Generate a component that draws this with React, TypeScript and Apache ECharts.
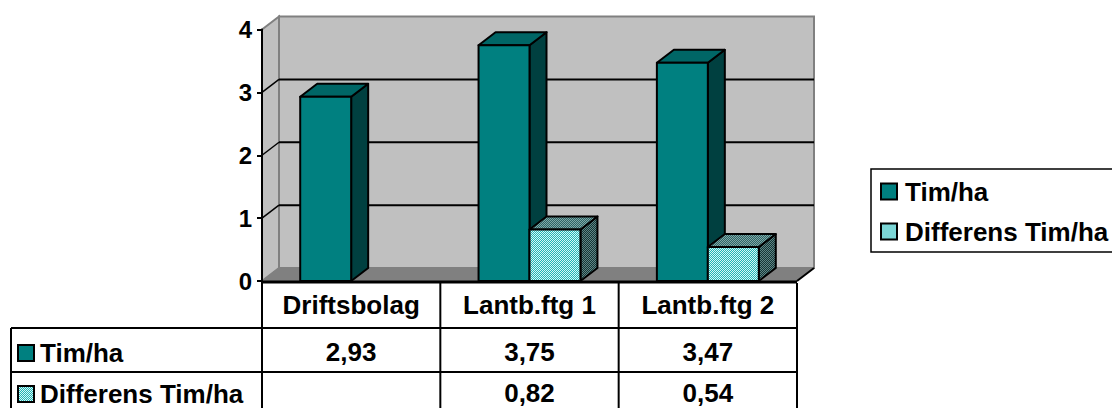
import React, { useEffect, useRef } from "react";
import * as echarts from "echarts";

const categories = ["Driftsbolag", "Lantb.ftg 1", "Lantb.ftg 2"];
const seriesNames = ["Tim/ha", "Differens Tim/ha"];
const timHa = [2.93, 3.75, 3.47];
const differens: (number | null)[] = [null, 0.82, 0.54];
const yTicks = [0, 1, 2, 3, 4];

const W = 1112;
const H = 408;
const GRID_L = 262;
const GRID_R = 797;
const GRID_T = 29.5;
const GRID_B = 281;
const DX = 17;
const DY = 13;
const FONT = '"Liberation Sans", Arial, sans-serif';
const ROW_Y = [283, 328, 372, 416];
const ROW_TEXT_Y = [352, 393];
const LEFT_COL_X = 11;
const TXT = 26;

function checker(c1: string, c2: string) {
  const cv = document.createElement("canvas");
  cv.width = 2;
  cv.height = 2;
  const ctx = cv.getContext("2d")!;
  ctx.fillStyle = c1;
  ctx.fillRect(0, 0, 2, 2);
  ctx.fillStyle = c2;
  ctx.fillRect(0, 0, 1, 1);
  ctx.fillRect(1, 1, 1, 1);
  return { image: cv.toDataURL(), imageWidth: 2, imageHeight: 2, repeat: "repeat" };
}

const fmt = (v: number) => v.toFixed(2).replace(".", ",");

export default function App() {
  const ref = useRef<HTMLDivElement>(null);
  useEffect(() => {
    if (!ref.current) return;
    const chart = echarts.init(ref.current, null, { renderer: "svg" });

    const palettes = [
      { front: "#008080", top: "#006666", side: "#004040" },
      {
        front: checker("#22b4b4", "#d4f8f8") as any,
        top: checker("#2e6464", "#80a8a8") as any,
        side: checker("#163636", "#5e8686") as any,
      },
    ];

    const barSeries = [timHa, differens].map((vals, s) => ({
      name: seriesNames[s],
      type: "custom",
      z: 5,
      silent: true,
      itemStyle: { color: palettes[s].front },
      encode: { x: 0, y: 1 },
      data: vals.map((v, i) => [i, v == null ? "-" : v]),
      renderItem: (params: any, api: any) => {
        const idx = api.value(0);
        const v = api.value(1);
        if (v == null || isNaN(v)) return { type: "group", children: [] };
        const [cx, yTop] = api.coord([idx, v]);
        const y0 = api.coord([idx, 0])[1];
        const band = api.size([1, 0])[0];
        const barW = band / 3.5;
        const gap = barW * 0.75;
        const x = cx - band / 2 + gap + s * barW;
        const pal = palettes[s];
        const stroke = { stroke: "#000", lineWidth: 2, lineJoin: "round" };
        return {
          type: "group",
          children: [
            {
              type: "polygon",
              shape: { points: [[x + barW, yTop], [x + barW + DX, yTop - DY], [x + barW + DX, y0 - DY], [x + barW, y0]] },
              style: { fill: pal.side, ...stroke },
            },
            {
              type: "polygon",
              shape: { points: [[x, yTop], [x + barW, yTop], [x + barW + DX, yTop - DY], [x + DX, yTop - DY]] },
              style: { fill: pal.top, ...stroke },
            },
            {
              type: "rect",
              shape: { x, y: yTop, width: barW, height: y0 - yTop },
              style: { fill: pal.front, ...stroke },
            },
            {
              type: "text",
              style: {
                text: fmt(v),
                x: cx,
                y: ROW_TEXT_Y[s],
                align: "center",
                verticalAlign: "middle",
                fontSize: TXT,
                fontWeight: "bold",
                fontFamily: FONT,
                fill: "#000",
              },
            },
          ],
        };
      },
    }));

    const wallSeries = {
      type: "custom",
      z: 1,
      silent: true,
      data: [[0, 0]],
      encode: { x: 0, y: 1 },
      renderItem: (params: any, api: any) => {
        const cs = params.coordSys;
        const x = cs.x, y = cs.y, w = cs.width, h = cs.height;
        const children: any[] = [
          {
            type: "rect",
            shape: { x: x + DX, y: y - DY, width: w, height: h },
            style: { fill: "#c0c0c0", stroke: "#808080", lineWidth: 2 },
          },
          {
            type: "polygon",
            shape: { points: [[x, y], [x + DX, y - DY], [x + DX, y + h - DY], [x, y + h]] },
            style: { fill: "#c0c0c0", stroke: "#808080", lineWidth: 2 },
          },
          {
            type: "polygon",
            shape: { points: [[x, y + h], [x + w, y + h], [x + w + DX, y + h - DY], [x + DX, y + h - DY]] },
            style: { fill: "#808080", stroke: "#808080", lineWidth: 1 },
          },
          {
            type: "line",
            shape: { x1: x + w, y1: y + h, x2: x + w + DX, y2: y + h - DY },
            style: { stroke: "#000", lineWidth: 2 },
          },
        ];
        yTicks.slice(1, -1).forEach((t) => {
          const yf = api.coord([0, t])[1];
          children.push({
            type: "line",
            shape: { x1: x + DX, y1: yf - DY, x2: x + w + DX, y2: yf - DY },
            style: { stroke: "#000", lineWidth: 2 },
          });
          children.push({
            type: "line",
            shape: { x1: x, y1: yf, x2: x + DX, y2: yf - DY },
            style: { stroke: "#000", lineWidth: 1.5 },
          });
        });
        return { type: "group", children };
      },
    };

    // table
    const bandW = (GRID_R - GRID_L) / categories.length;
    const colX = categories.map((_, i) => GRID_L + bandW * i).concat([GRID_R]);
    const lineStyle = { stroke: "#000", lineWidth: 2 };
    const tableEls: any[] = [];
    tableEls.push({ type: "line", shape: { x1: GRID_L, y1: GRID_B + 1, x2: GRID_R, y2: GRID_B + 1 }, style: { stroke: "#000", lineWidth: 3 } });
    colX.forEach((cx, i) => {
      tableEls.push({ type: "line", shape: { x1: cx, y1: i === 0 ? GRID_T : ROW_Y[0], x2: cx, y2: H }, style: lineStyle });
    });
    tableEls.push({ type: "line", shape: { x1: LEFT_COL_X, y1: ROW_Y[1], x2: LEFT_COL_X, y2: H }, style: lineStyle });
    [ROW_Y[1], ROW_Y[2]].forEach((yy) => {
      tableEls.push({ type: "line", shape: { x1: LEFT_COL_X, y1: yy, x2: GRID_R, y2: yy }, style: lineStyle });
    });
    seriesNames.forEach((n, s) => {
      const cy = ROW_TEXT_Y[s] + 1;
      tableEls.push({
        type: "rect",
        shape: { x: 18, y: cy - 8, width: 16, height: 16 },
        style: { fill: palettes[s].front, stroke: "#000", lineWidth: 2 },
      });
      tableEls.push({
        type: "text",
        style: {
          text: n,
          x: 40,
          y: cy,
          align: "left",
          verticalAlign: "middle",
          fontSize: TXT,
          fontWeight: "bold",
          fontFamily: FONT,
          fill: "#000",
        },
      });
    });
    // legend frame (extends past the right edge as in the reference)
    tableEls.push({
      type: "rect",
      shape: { x: 871, y: 169, width: 300, height: 83 },
      style: { fill: "none", stroke: "#000", lineWidth: 1.5 },
    });

    chart.setOption({
      animation: false,
      backgroundColor: "#fff",
      grid: { left: GRID_L, right: W - GRID_R, top: GRID_T, bottom: H - GRID_B, containLabel: false },
      xAxis: {
        type: "category",
        data: categories,
        axisLine: { show: false },
        axisTick: { show: false },
        axisLabel: { interval: 0, hideOverlap: false, margin: 11, fontSize: TXT, fontWeight: "bold", fontFamily: FONT, color: "#000" },
        splitLine: { show: false },
      },
      yAxis: {
        type: "value",
        min: 0,
        max: 4,
        interval: 1,
        z: 10,
        axisLine: { show: true, lineStyle: { color: "#000", width: 2 } },
        axisTick: { show: true, length: 5, lineStyle: { color: "#000", width: 2 } },
        axisLabel: { margin: 10, fontSize: 24, fontWeight: "bold", fontFamily: FONT, color: "#000" },
        splitLine: { show: false },
      },
      legend: {
        orient: "vertical",
        left: 871,
        top: 169,
        padding: [8, 0, 5, 9],
        borderWidth: 0,
        itemWidth: 16,
        itemHeight: 16,
        itemGap: 11,
        textStyle: { fontSize: TXT, fontWeight: "bold", fontFamily: FONT, color: "#000", lineHeight: 29, padding: [0, 0, 0, 3] },
        data: seriesNames.map((n, s) => ({
          name: n,
          icon: "rect",
          itemStyle: { color: palettes[s].front, borderColor: "#000", borderWidth: 2 },
        })),
        selectedMode: false,
      },
      graphic: { elements: tableEls.map((e) => ({ ...e, z: 20, silent: true })) },
      series: [wallSeries, ...barSeries],
    });
    return () => chart.dispose();
  }, []);
  return <div ref={ref} style={{ position: "fixed", left: 0, top: 0, width: W, height: H }} />;
}
